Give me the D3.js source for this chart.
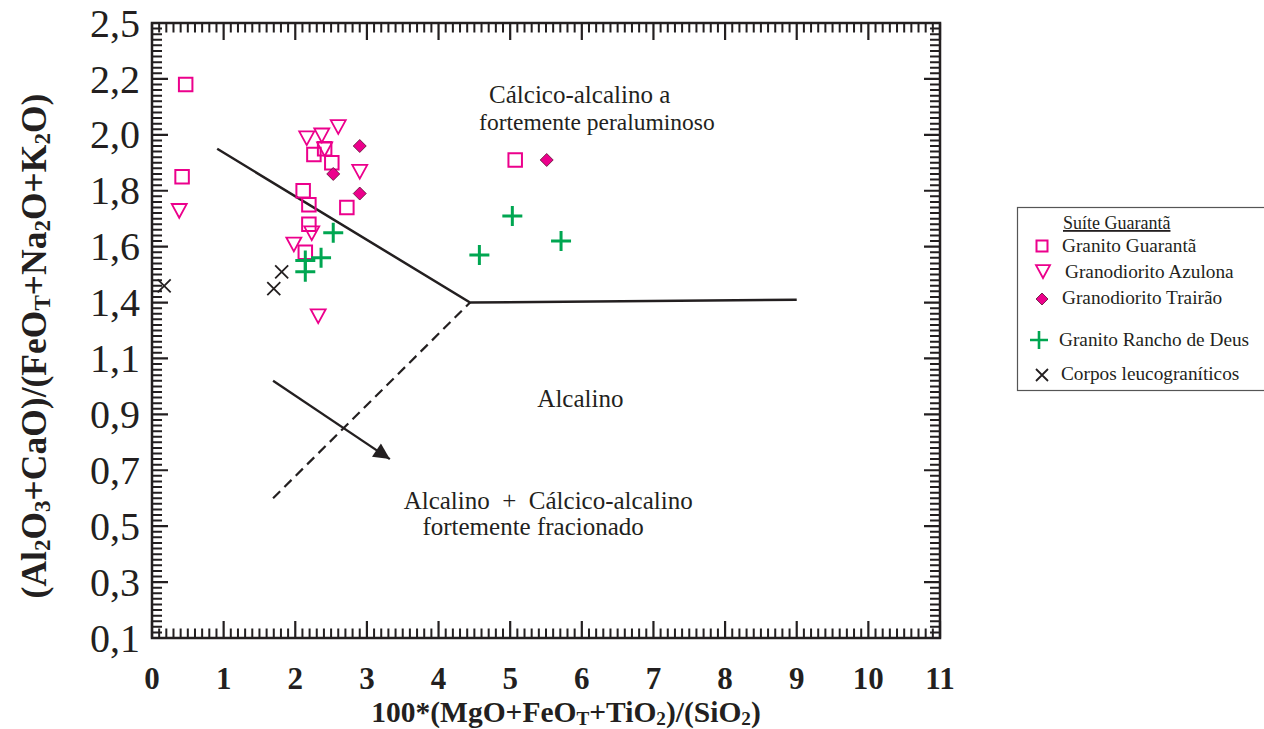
<!DOCTYPE html>
<html>
<head>
<meta charset="utf-8">
<script src="https://cdn.jsdelivr.net/npm/d3@7"></script>
<style>
  body { margin: 0; background: #fff; }
  svg { display: block; font-family: "Liberation Serif", "Times New Roman", serif; }
  text { white-space: pre; }
</style>
</head>
<body>
<svg width="1264" height="729"></svg>
<script>
// ---- data ----
const xTickValues = [0, 1, 2, 3, 4, 5, 6, 7, 8, 9, 10, 11];
const yTickValues = [0.1, 0.3, 0.5, 0.7, 0.9, 1.1, 1.4, 1.6, 1.8, 2.0, 2.2, 2.5];
const yTickLabels = ["0,1", "0,3", "0,5", "0,7", "0,9", "1,1", "1,4", "1,6", "1,8", "2,0", "2,2", "2,5"];

const granitoGuaranta = [
  [0.47, 2.18], [0.42, 1.85], [2.11, 1.80], [2.19, 1.75], [2.19, 1.68], [2.14, 1.58],
  [2.26, 1.93], [2.41, 1.95], [2.51, 1.90], [2.72, 1.74], [5.07, 1.91]
];
const granodioritoAzulona = [
  [0.38, 1.73], [2.16, 1.99], [2.37, 2.00], [2.60, 2.03], [2.41, 1.95],
  [2.90, 1.87], [2.23, 1.65], [1.98, 1.61], [2.32, 1.33]
];
const granodioritoTrairao = [[2.90, 1.96], [2.53, 1.86], [2.90, 1.79], [5.51, 1.91]];
const granitoRanchoDeus = [
  [2.53, 1.65], [2.36, 1.56], [2.14, 1.55], [2.14, 1.51], [5.03, 1.71], [4.57, 1.57], [5.71, 1.62]
];
const corposLeuco = [[0.17, 1.46], [1.81, 1.51], [1.70, 1.45]];

// boundaries
const solidBoundary = [[0.91, 1.95], [4.44, 1.40], [9.0, 1.41]];
const dashedBoundary = [[1.69, 0.60], [4.44, 1.40]];
const trendArrow = [[1.69, 1.02], [3.32, 0.74]];

// field labels, one entry per line (centre x, baseline y in data units)
const fieldLabels = [
  { text: "Cálcico-alcalino a", x: 5.97, y: 2.114, size: 25 },
  { text: "fortemente peraluminoso", x: 6.21, y: 2.018, size: 23.5 },
  { text: "Alcalino", x: 5.98, y: 0.925, size: 25 },
  { text: "Alcalino  +  Cálcico-alcalino", x: 5.53, y: 0.561, size: 25 },
  { text: "fortemente fracionado", x: 5.32, y: 0.468, size: 25 }
];

// ---- layout ----
const svg = d3.select("svg");
const plot = { left: 152, right: 940, top: 23, bottom: 638 };
const pink = "#ec008c", green = "#00a651", ink = "#231f20";

const x = d3.scaleLinear().domain([0, 11]).range([plot.left, plot.right]);
// the diagram's y labels are evenly spaced though not linear, so a polylinear scale
const yStep = (plot.bottom - plot.top) / (yTickValues.length - 1);
const y = d3.scaleLinear().domain(yTickValues).range(yTickValues.map((d, i) => plot.bottom - i * yStep));

// minor ticks: 10 per major interval
const xMinor = d3.range(0, 110).map(i => i / 10).filter(v => !Number.isInteger(v));
const yMinor = [];
for (let i = 0; i < yTickValues.length - 1; i++) {
  for (let k = 1; k < 10; k++) yMinor.push(yTickValues[i] + (yTickValues[i + 1] - yTickValues[i]) * k / 10);
}

// ticks pointing inward on all four sides (drawn as paths)
function xTickPath(vals, len) {
  return vals.map(d => {
    const px = x(d);
    return `M${px},${plot.bottom}V${plot.bottom - len}M${px},${plot.top}V${plot.top + len}`;
  }).join("");
}
function yTickPath(vals, len) {
  return vals.map(d => {
    const py = y(d);
    return `M${plot.left},${py}H${plot.left + len}M${plot.right},${py}H${plot.right - len}`;
  }).join("");
}
const ticks = svg.append("g").attr("fill", "none").attr("stroke", ink);
ticks.append("path").attr("d", xTickPath(xMinor, 9.5)).attr("stroke-width", 2);
ticks.append("path").attr("d", xTickPath(xTickValues, 17)).attr("stroke-width", 2.2);
ticks.append("path").attr("d", yTickPath(yMinor, 10)).attr("stroke-width", 2);
ticks.append("path").attr("d", yTickPath(yTickValues, 16)).attr("stroke-width", 2.2);

// tick labels
svg.append("g").selectAll("text").data(xTickValues).join("text")
  .attr("x", d => x(d)).attr("y", 689)
  .attr("text-anchor", "middle").attr("font-size", 31).attr("font-weight", "bold").attr("fill", ink)
  .text(d => d);
svg.append("g").selectAll("text").data(yTickValues).join("text")
  .attr("x", plot.left - 12).attr("y", d => y(d)).attr("dy", "0.34em")
  .attr("text-anchor", "end").attr("font-size", 40).attr("fill", ink)
  .text((d, i) => yTickLabels[i]);

// frame
svg.append("rect")
  .attr("x", plot.left).attr("y", plot.top)
  .attr("width", plot.right - plot.left).attr("height", plot.bottom - plot.top)
  .attr("fill", "none").attr("stroke", ink).attr("stroke-width", 2.5);

// rich text helper: parts = [[text, isSub], ...]
function richText(sel, parts, size) {
  let sub = false;
  parts.forEach(([t, s]) => {
    const ts = sel.append("tspan").text(t);
    if (s) ts.attr("font-size", size * 0.65).attr("dy", sub ? 0 : size * 0.1);
    else ts.attr("dy", sub ? -size * 0.1 : 0);
    sub = s;
  });
}

// axis titles
const xTitle = svg.append("text")
  .attr("x", 566).attr("y", 722)
  .attr("text-anchor", "middle").attr("font-weight", "bold").attr("font-size", 29.5).attr("fill", ink);
richText(xTitle, [["100*(MgO+FeO", 0], ["T", 1], ["+TiO", 0], ["2", 1], [")/(SiO", 0], ["2", 1], [")", 0]], 29.5);

const yTitle = svg.append("text")
  .attr("transform", "translate(46,346) rotate(-90)")
  .attr("text-anchor", "middle").attr("font-weight", "bold").attr("font-size", 35.5).attr("fill", ink);
richText(yTitle, [["(Al", 0], ["2", 1], ["O", 0], ["3", 1], ["+CaO)/(FeO", 0], ["T", 1], ["+Na", 0], ["2", 1],
  ["O+K", 0], ["2", 1], ["O)", 0]], 35.5);

// boundaries
const line = d3.line().x(d => x(d[0])).y(d => y(d[1]));
svg.append("path").attr("d", line(solidBoundary))
  .attr("fill", "none").attr("stroke", ink).attr("stroke-width", 2.5);
svg.append("path").attr("d", line(dashedBoundary))
  .attr("fill", "none").attr("stroke", ink).attr("stroke-width", 2.2).attr("stroke-dasharray", "10,6");

svg.append("defs").append("marker")
  .attr("id", "arrowhead").attr("viewBox", "0 0 10 10")
  .attr("refX", 10).attr("refY", 5)
  .attr("markerWidth", 8).attr("markerHeight", 7)
  .attr("markerUnits", "strokeWidth").attr("orient", "auto")
  .append("path").attr("d", "M0,0 L10,5 L0,10 Z").attr("fill", ink);
svg.append("path").attr("d", line(trendArrow))
  .attr("fill", "none").attr("stroke", ink).attr("stroke-width", 2.3)
  .attr("marker-end", "url(#arrowhead)");

// field labels
svg.append("g").selectAll("text").data(fieldLabels).join("text")
  .attr("x", d => x(d.x)).attr("y", d => y(d.y))
  .attr("text-anchor", "middle").attr("font-size", d => d.size).attr("fill", ink)
  .text(d => d.text);

// marker shapes
const shapes = {
  square: s => `M${-s / 2},${-s / 2}h${s}v${s}h${-s}Z`,
  triDown: s => `M${-s / 2},${-s * 0.42}L${s / 2},${-s * 0.42}L0,${s * 0.5}Z`,
  diamond: s => `M0,${-s / 2}L${s / 2},0L0,${s / 2}L${-s / 2},0Z`,
  plus: s => `M${-s / 2},0H${s / 2}M0,${-s / 2}V${s / 2}`,
  cross: s => `M${-s / 2},${-s / 2}L${s / 2},${s / 2}M${s / 2},${-s / 2}L${-s / 2},${s / 2}`
};

const series = [
  { name: "Granito Guarantã", data: granitoGuaranta, shape: "square", size: 13.5, fill: "none", stroke: pink, sw: 2 },
  { name: "Granodiorito Azulona", data: granodioritoAzulona, shape: "triDown", size: 15, fill: "none", stroke: pink, sw: 1.8 },
  { name: "Granodiorito Trairão", data: granodioritoTrairao, shape: "diamond", size: 13, fill: pink, stroke: "#5a1030", sw: 0.8 },
  { name: "Granito Rancho de Deus", data: granitoRanchoDeus, shape: "plus", size: 20, fill: "none", stroke: green, sw: 3 },
  { name: "Corpos leucograníticos", data: corposLeuco, shape: "cross", size: 13, fill: "none", stroke: ink, sw: 1.8 }
];

series.forEach(s => {
  svg.append("g").selectAll("path").data(s.data).join("path")
    .attr("transform", d => `translate(${x(d[0])},${y(d[1])})`)
    .attr("d", shapes[s.shape](s.size))
    .attr("fill", s.fill).attr("stroke", s.stroke).attr("stroke-width", s.sw);
});

// legend
const legend = svg.append("g");
legend.append("rect").attr("x", 1017.5).attr("y", 207.5).attr("width", 270).attr("height", 183)
  .attr("fill", "none").attr("stroke", "#555").attr("stroke-width", 1.2);
legend.append("text").attr("x", 1063).attr("y", 229).attr("font-size", 18)
  .attr("text-decoration", "underline").attr("fill", ink).text("Suíte Guarantã");

const legendRows = [
  { cx: 1042, cy: 246, tx: 1062, ty: 252, size: 11 },
  { cx: 1043, cy: 271, tx: 1065, ty: 278, size: 14 },
  { cx: 1042, cy: 299, tx: 1062, ty: 304, size: 12 },
  { cx: 1039, cy: 340, tx: 1059, ty: 346, size: 18 },
  { cx: 1042, cy: 375, tx: 1061, ty: 380, size: 12 }
];
series.forEach((s, i) => {
  const r = legendRows[i];
  legend.append("path").attr("transform", `translate(${r.cx},${r.cy})`)
    .attr("d", shapes[s.shape](r.size))
    .attr("fill", s.fill).attr("stroke", s.stroke).attr("stroke-width", s.shape === "plus" ? 2.6 : s.sw);
  legend.append("text").attr("x", r.tx).attr("y", r.ty).attr("font-size", 19.3)
    .attr("fill", ink).text(s.name);
});
</script>
</body>
</html>
